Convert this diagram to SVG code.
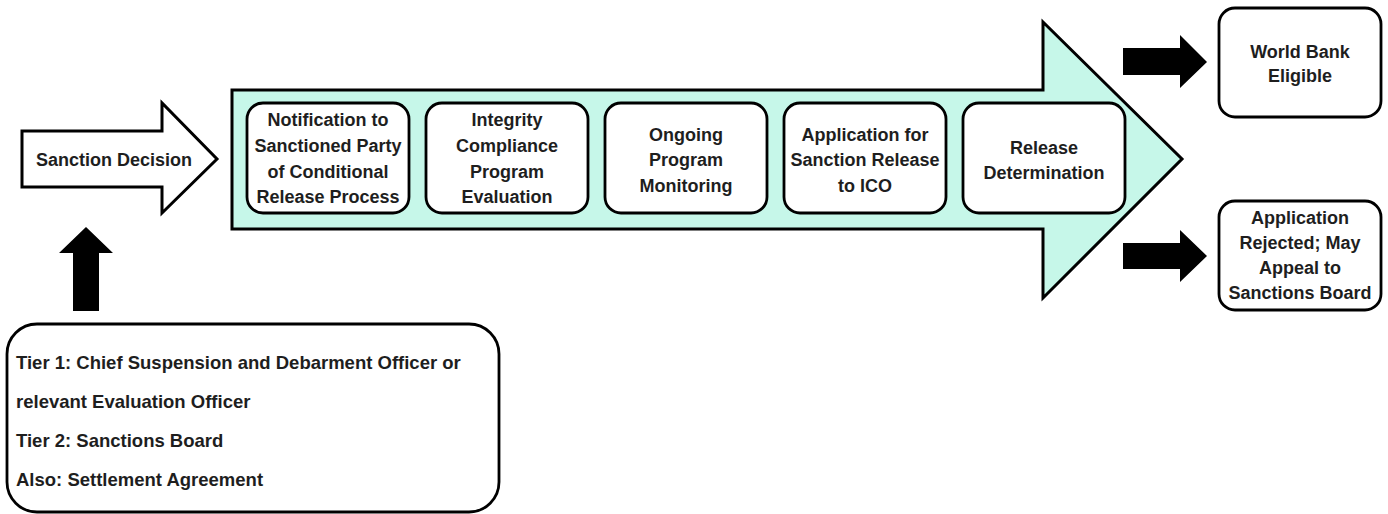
<svg xmlns="http://www.w3.org/2000/svg" width="1388" height="514" viewBox="0 0 1388 514">
<style>
text{font-family:"Liberation Sans",Arial,sans-serif;font-weight:bold;font-size:18px;fill:#1e1e1e}
.c{text-anchor:middle}
.l{font-size:18.5px}
.box{fill:#fff;stroke:#000;stroke-width:2.8}
.blk{fill:#000;stroke:none}
</style>
<rect width="1388" height="514" fill="#fff"/>
<g id="sanction-decision">
<path d="M22,131 H162 V103 L217,159 L162,213 V187 H22 Z" fill="#fff" stroke="#000" stroke-width="3" stroke-linejoin="miter"/>
<text class="c" x="114" y="166">Sanction Decision</text>
</g>
<g id="process-arrow">
<path d="M232,90 H1043 V22 L1182,159 L1043,298 V229 H232 Z" fill="#c6f7e9" stroke="#000" stroke-width="3"/>
</g>
<g id="step1">
<rect class="box" x="247" y="103" width="162" height="110" rx="16"/>
<text class="c" x="328" y="126">Notification to</text>
<text class="c" x="328" y="152">Sanctioned Party</text>
<text class="c" x="328" y="178">of Conditional</text>
<text class="c" x="328" y="203">Release Process</text>
</g>
<g id="step2">
<rect class="box" x="426" y="103" width="162" height="110" rx="16"/>
<text class="c" x="507" y="126">Integrity</text>
<text class="c" x="507" y="152">Compliance</text>
<text class="c" x="507" y="178">Program</text>
<text class="c" x="507" y="203">Evaluation</text>
</g>
<g id="step3">
<rect class="box" x="605" y="103" width="162" height="110" rx="16"/>
<text class="c" x="686" y="141">Ongoing</text>
<text class="c" x="686" y="166">Program</text>
<text class="c" x="686" y="192">Monitoring</text>
</g>
<g id="step4">
<rect class="box" x="784" y="103" width="162" height="110" rx="16"/>
<text class="c" x="865" y="141">Application for</text>
<text class="c" x="865" y="166">Sanction Release</text>
<text class="c" x="865" y="192">to ICO</text>
</g>
<g id="step5">
<rect class="box" x="963" y="103" width="162" height="110" rx="16"/>
<text class="c" x="1044" y="154">Release</text>
<text class="c" x="1044" y="179">Determination</text>
</g>
<g id="eligible">
<rect class="box" x="1219" y="8" width="162" height="109" rx="16"/>
<text class="c" x="1300" y="58">World Bank</text>
<text class="c" x="1300" y="82">Eligible</text>
</g>
<g id="rejected">
<rect class="box" x="1219" y="201" width="162" height="109" rx="16"/>
<text class="c" x="1300" y="224">Application</text>
<text class="c" x="1300" y="249">Rejected; May</text>
<text class="c" x="1300" y="274">Appeal to</text>
<text class="c" x="1300" y="299">Sanctions Board</text>
</g>
<g id="decision-makers">
<rect class="box" x="7" y="324" width="492" height="188" rx="30" stroke-width="3"/>
<text class="l" x="16" y="369">Tier 1: Chief Suspension and Debarment Officer or</text>
<text class="l" x="16" y="408">relevant Evaluation Officer</text>
<text class="l" x="16" y="447">Tier 2: Sanctions Board</text>
<text class="l" x="16" y="486">Also: Settlement Agreement</text>
</g>
<g id="connectors">
<path class="blk" d="M73,311 V253 H59 L86,227 L113,253 H99 V311 Z"/>
<path class="blk" d="M1123,48 H1180 V35 L1207,62 L1180,88 V75 H1123 Z"/>
<path class="blk" d="M1123,243 H1180 V230 L1207,256 L1180,282 V269 H1123 Z"/>
</g>
</svg>
